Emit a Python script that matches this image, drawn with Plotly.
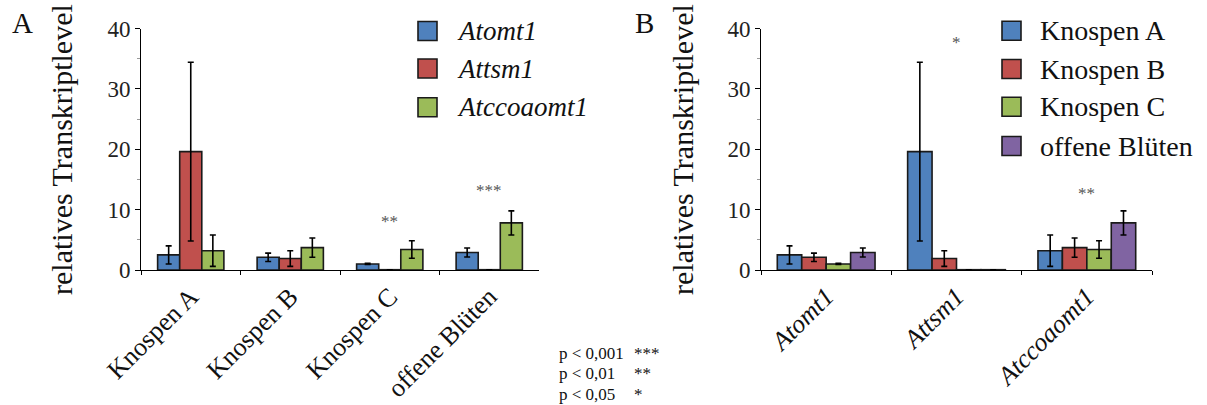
import plotly.graph_objects as go

# ---------------- data ----------------
stages = ["Knospen A", "Knospen B", "Knospen C", "offene Blüten"]
genes = ["Atomt1", "Attsm1", "Atccoaomt1"]

atomt1 = [2.5, 2.1, 1.0, 2.9]
atomt1_err = [1.5, 0.7, 0.1, 0.75]
attsm1 = [19.6, 1.9, 0.05, 0.05]
attsm1_err = [14.8, 1.3, 0.0, 0.0]
atccoaomt1 = [3.2, 3.7, 3.4, 7.8]
atccoaomt1_err = [2.6, 1.6, 1.45, 2.0]

gene_values = [atomt1, attsm1, atccoaomt1]
gene_errors = [atomt1_err, attsm1_err, atccoaomt1_err]

gene_colors = ["#4F81BD", "#C0504D", "#9BBB59"]
stage_colors = ["#4F81BD", "#C0504D", "#9BBB59", "#8064A2"]

# significance marks
sig_A_text = ["**", "***"]
sig_A_cat = ["Knospen C", "offene Blüten"]
sig_A_y = [8.0, 13.1]
sig_B_text = ["*", "**"]
sig_B_cat = ["Attsm1", "Atccoaomt1"]
sig_B_y = [37.7, 12.6]

p_labels = ["p < 0,001", "p < 0,01", "p < 0,05"]
p_stars = ["***", "**", "*"]

yticks = [0, 10, 20, 30, 40]
y_title = "relatives Transkriptlevel"

# ---------------- styling ----------------
W, H = 1207, 405
FONT = "Liberation Serif"
OUTLINE = "#1a1a1a"


def px_x(p):
    return p / W


def px_y(p):
    return 1 - p / H


fig = go.Figure()

# Panel A: grouped by stage, one trace per gene
nA = len(genes)
wA = 0.222
for i, g in enumerate(genes):
    fig.add_trace(go.Bar(
        x=stages, y=gene_values[i], name=g,
        xaxis="x", yaxis="y",
        width=wA, offset=-wA * nA / 2 + i * wA,
        marker=dict(color=gene_colors[i], line=dict(color=OUTLINE, width=1.6)),
        error_y=dict(type="data", array=gene_errors[i], color="#000000",
                     thickness=1.6, width=3),
        showlegend=False,
    ))

# Panel B: grouped by gene, one trace per stage
nB = len(stages)
wB = 0.1875
for j, s in enumerate(stages):
    fig.add_trace(go.Bar(
        x=genes, y=[gene_values[i][j] for i in range(len(genes))], name=s,
        xaxis="x2", yaxis="y2",
        width=wB, offset=-wB * nB / 2 + j * wB,
        marker=dict(color=stage_colors[j], line=dict(color=OUTLINE, width=1.6)),
        error_y=dict(type="data", array=[gene_errors[i][j] for i in range(len(genes))],
                     color="#000000", thickness=1.6, width=3),
        showlegend=False,
    ))

ydom = [px_y(270), px_y(28.5)]
yaxis_common = dict(
    range=[0, 40], tickvals=yticks, ticks="outside", ticklen=5, tickwidth=1,
    tickcolor="#000", showline=True, linecolor="#000", linewidth=1,
    showgrid=False, zeroline=False, domain=ydom, automargin=False,
    tickfont=dict(family=FONT, size=23, color="#222"),
    minor=dict(dtick=5, ticks="outside", ticklen=3, tickcolor="#999", showgrid=False),
)
xaxis_common = dict(
    type="category", ticks="outside", tickson="boundaries", ticklen=4,
    tickcolor="#000", showline=True, linecolor="#000", linewidth=1,
    showgrid=False, zeroline=False, tickangle=-45, automargin=False,
)

annotations = []
shapes = []

# significance marks
for t, c, yv in zip(sig_A_text, sig_A_cat, sig_A_y):
    annotations.append(dict(x=c, y=yv, xref="x", yref="y", text=t, showarrow=False,
                            font=dict(family=FONT, size=17, color="#555")))
for t, c, yv in zip(sig_B_text, sig_B_cat, sig_B_y):
    annotations.append(dict(x=c, y=yv, xref="x2", yref="y2", text=t, showarrow=False,
                            font=dict(family=FONT, size=17, color="#555")))

# axis titles and panel letters
for xc, letter, lx in [(61, "A", 22), (682, "B", 644)]:
    annotations.append(dict(x=px_x(xc), y=px_y(150), xref="paper", yref="paper",
                            xanchor="center", yanchor="middle",
                            text=y_title, textangle=-90, showarrow=False,
                            font=dict(family=FONT, size=30, color="#111")))
    annotations.append(dict(x=px_x(lx), y=px_y(23), xref="paper", yref="paper",
                            xanchor="center", yanchor="middle",
                            text=letter, showarrow=False,
                            font=dict(family=FONT, size=29, color="#111")))

# legends (custom)
def add_legend(names, colors, sq_x0, rows, text_x, size, italic):
    for n, c, yc in zip(names, colors, rows):
        shapes.append(dict(type="rect", xref="paper", yref="paper",
                           x0=px_x(sq_x0), x1=px_x(sq_x0 + 19),
                           y0=px_y(yc + 9.5), y1=px_y(yc - 9.5),
                           fillcolor=c, line=dict(color=OUTLINE, width=1.6)))
        annotations.append(dict(x=px_x(text_x), y=px_y(yc), xref="paper", yref="paper",
                                xanchor="left", yanchor="middle", showarrow=False,
                                text=f"<i>{n}</i>" if italic else n,
                                font=dict(family=FONT, size=size, color="#111")))

add_legend(genes, gene_colors, 418, [31, 68.5, 107.3], 455, 27, True)
add_legend(stages, stage_colors, 1002, [30.7, 69, 106.7, 146], 1038, 28, False)

# p-value key
for k, (pl, ps) in enumerate(zip(p_labels, p_stars)):
    yc = 353 + k * 20.5
    annotations.append(dict(x=px_x(557), y=px_y(yc), xref="paper", yref="paper",
                            xanchor="left", yanchor="middle", showarrow=False, text=pl,
                            font=dict(family=FONT, size=17, color="#111")))
    annotations.append(dict(x=px_x(632), y=px_y(yc), xref="paper", yref="paper",
                            xanchor="left", yanchor="middle", showarrow=False, text=ps,
                            font=dict(family=FONT, size=17, color="#111")))

fig.update_layout(
    width=W, height=H, margin=dict(l=0, r=0, t=0, b=0, autoexpand=False),
    paper_bgcolor="white", plot_bgcolor="white",
    barmode="overlay",
    xaxis=dict(**xaxis_common, domain=[px_x(141), px_x(539)], anchor="y",
               tickfont=dict(family=FONT, size=26, color="#111")),
    yaxis=dict(**yaxis_common, anchor="x"),
    xaxis2=dict(**xaxis_common, domain=[px_x(761), px_x(1152)], anchor="y2",
                tickfont=dict(family=FONT, size=26, color="#111", style="italic")),
    yaxis2=dict(**yaxis_common, anchor="x2"),
    annotations=annotations, shapes=shapes,
    showlegend=False,
)

fig.write_html("out.html")
